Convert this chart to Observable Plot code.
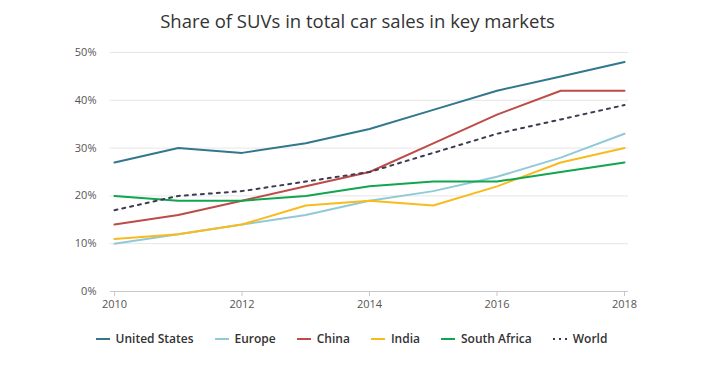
<!DOCTYPE html>
<html><head><meta charset="utf-8">
<script src="https://cdn.jsdelivr.net/npm/d3@7"></script>
<script src="https://cdn.jsdelivr.net/npm/@observablehq/plot@0.6"></script>
<style>
body{margin:0;background:#fff;font-family:"Open Sans",sans-serif;}
#title{height:40px;line-height:42px;text-align:center;font-size:18.5px;color:#333;}
#chart svg{display:block;}
#legend{display:flex;justify-content:center;gap:21px;margin-top:10px;padding-right:12px;font-size:12px;font-weight:600;color:#333;}
.item{display:flex;align-items:center;}
.item svg{margin-right:6px;}
</style></head>
<body>
<div id="title">Share of SUVs in total car sales in key markets</div>
<div id="chart"></div>
<div id="legend"></div>
<script>
const years = [2010, 2011, 2012, 2013, 2014, 2015, 2016, 2017, 2018];
const seriesNames = ["United States", "Europe", "China", "India", "South Africa", "World"];
const unitedStates = [27, 30, 29, 31, 34, 38, 42, 45, 48];
const europe = [10, 12, 14, 16, 19, 21, 24, 28, 33];
const china = [14, 16, 19, 22, 25, 31, 37, 42, 42];
const india = [11, 12, 14, 18, 19, 18, 22, 27, 30];
const southAfrica = [20, 19, 19, 20, 22, 23, 23, 25, 27];
const world = [17, 20, 21, 23, 25, 29, 33, 36, 39];
const xTicks = [2010, 2012, 2014, 2016, 2018];
const yTicks = [0, 0.1, 0.2, 0.3, 0.4, 0.5];
const colors = ["#31788d", "#92c9d7", "#bd4b48", "#f7bb1c", "#12a54f", "#3c3b52"];

const valuesBySeries = [unitedStates, europe, china, india, southAfrica, world];
const data = [];
seriesNames.forEach((s, i) => years.forEach((y, j) => data.push({series: s, year: y, value: valuesBySeries[i][j] / 100})));

const color = {domain: seriesNames, range: colors};
const chart = Plot.plot({
  width: 715, height: 280,
  marginTop: 12, marginBottom: 29, marginLeft: 110, marginRight: 87,
  style: {fontFamily: "Open Sans, sans-serif", fontSize: "11px", background: "#fff"},
  x: {domain: [2010, 2018], inset: 4, label: null},
  y: {domain: [0, 0.5], label: null},
  color,
  marks: [
    Plot.gridY(yTicks, {stroke: "#e6e6e6", strokeOpacity: 1}),
    Plot.axisY(yTicks, {tickSize: 0, tickPadding: 14, tickFormat: d3.format(".0%"), color: "#555", label: null}),
    Plot.ruleY([0], {stroke: "#c8c8c8"}),
    Plot.axisX(xTicks, {tickSize: 5, tickPadding: 4, tickFormat: d => String(d), stroke: "#c8c8c8", fill: "#555", label: null}),
    Plot.line(data.filter(d => d.series !== "World"), {x: "year", y: "value", z: "series", stroke: "series", strokeWidth: 2}),
    Plot.line(data.filter(d => d.series === "World"), {x: "year", y: "value", stroke: "series", strokeWidth: 2, strokeDasharray: "3,5"})
  ]
});
document.getElementById("chart").appendChild(chart);

const legend = document.getElementById("legend");
seriesNames.forEach((s, i) => {
  const item = document.createElement("div");
  item.className = "item";
  const dash = s === "World" ? ' stroke-dasharray="2,4"' : '';
  item.innerHTML = `<svg width="14" height="10"><line x1="0" x2="14" y1="5" y2="5" stroke="${colors[i]}" stroke-width="2"${dash}/></svg><span>${s}</span>`;
  legend.appendChild(item);
});
</script>
</body></html>
